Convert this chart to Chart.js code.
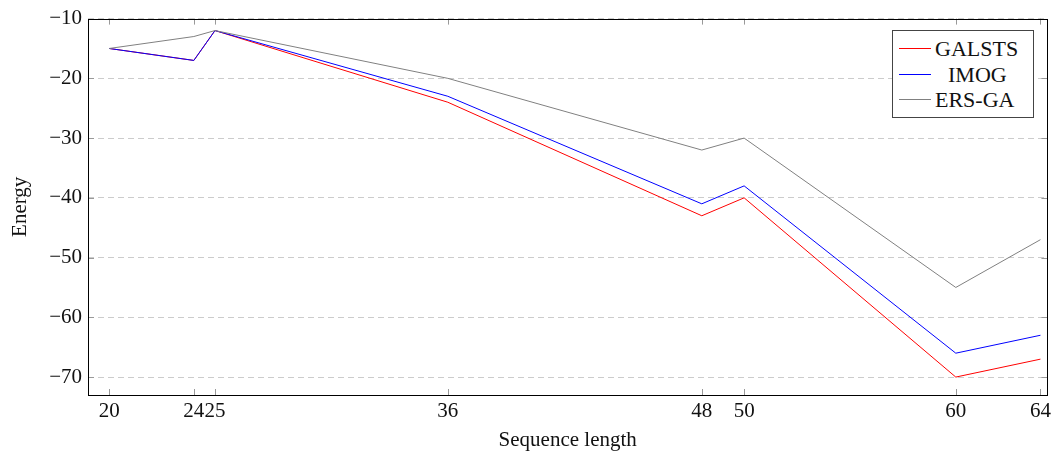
<!DOCTYPE html>
<html>
<head>
<meta charset="utf-8">
<script src="https://cdn.jsdelivr.net/npm/chart.js@4/dist/chart.umd.min.js"></script>
<style>
  body { margin: 0; background: #fff; }
  #wrap { position: relative; width: 1055px; height: 451px; }
  #legend {
    position: absolute; left: 892px; top: 30px; width: 140px; height: 86px;
    border: 1px solid #444; background: #fff;
    font-family: "Liberation Serif", serif; font-size: 22px; color: #111;
  }
  #legend div { height: 25.5px; line-height: 25.5px; position: relative; padding-left: 42px; }
  #legend div:first-child { margin-top: 5px; }
  #legend span.sw { position: absolute; left: 6px; top: 12px; width: 32px; height: 0; border-top: 1px solid; }
</style>
</head>
<body>
<div id="wrap">
  <canvas id="chart" width="1055" height="451"></canvas>
  <div id="legend"></div>
</div>
<script>
const seqLengths = [20, 24, 25, 36, 48, 50, 60, 64];
const galsts = [-15, -17, -12, -24, -43, -40, -70, -67];
const imog = [-15, -17, -12, -23, -41, -38, -66, -63];
const ersGa = [-15, -13, -12, -20, -32, -30, -55, -47];
const yTicks = [-70, -60, -50, -40, -30, -20, -10];

const seriesNames = ['GALSTS', 'IMOG', 'ERS-GA'];
const seriesColors = ['#ff0000', '#0000ff', '#808080'];
const seriesData = [galsts, imog, ersGa];

const font = { family: '"Liberation Serif", serif', size: 21 };

// frame + inward tick marks like pgfplots
const framePlugin = {
  id: 'frame',
  afterDraw(chart) {
    const ctx = chart.ctx, a = chart.chartArea;
    const xs = chart.scales.x, ys = chart.scales.y;
    ctx.save();
    ctx.strokeStyle = '#999';
    ctx.lineWidth = 1;
    ctx.beginPath();
    seqLengths.forEach(v => {
      const px = Math.round(xs.getPixelForValue(v)) + 0.5;
      ctx.moveTo(px, a.bottom); ctx.lineTo(px, a.bottom - 6);
      ctx.moveTo(px, a.top); ctx.lineTo(px, a.top + 6);
    });
    yTicks.forEach(v => {
      const py = Math.round(ys.getPixelForValue(v)) + 0.5;
      ctx.moveTo(a.left, py); ctx.lineTo(a.left + 6, py);
      ctx.moveTo(a.right, py); ctx.lineTo(a.right - 6, py);
    });
    ctx.stroke();
    ctx.strokeStyle = '#000';
    ctx.strokeRect(Math.round(a.left) + 0.5, Math.round(a.top) + 0.5,
      Math.round(a.right - a.left), Math.round(a.bottom - a.top));
    ctx.restore();
  }
};

new Chart(document.getElementById('chart').getContext('2d'), {
  type: 'line',
  data: {
    datasets: seriesNames.map((name, i) => ({
      label: name,
      data: seqLengths.map((x, j) => ({ x: x, y: seriesData[i][j] })),
      borderColor: seriesColors[i],
      borderWidth: 1,
      pointRadius: 0,
      tension: 0,
      fill: false
    })).reverse()
  },
  options: {
    responsive: false,
    animation: false,
    layout: { padding: { left: 0, top: 18, right: 6, bottom: 0 } },
    plugins: { legend: { display: false }, tooltip: { enabled: false } },
    scales: {
      x: {
        type: 'linear',
        min: 19.0,
        max: 64.33,
        afterBuildTicks: s => { s.ticks = seqLengths.map(v => ({ value: v })); },
        afterFit: s => { s.height = 56; },
        ticks: { autoSkip: false, maxRotation: 0, font: font, color: '#111', padding: 4,
                  callback: v => String(v) },
        grid: { display: false, drawTicks: false },
        border: { display: false },
        title: { display: true, text: 'Sequence length', font: font, color: '#111', padding: { top: 2, bottom: -2 } }
      },
      y: {
        min: -73,
        max: -10,
        afterBuildTicks: s => { s.ticks = yTicks.map(v => ({ value: v })); },
        afterFit: s => { s.width = 88; },
        ticks: { font: font, color: '#111', padding: 6,
                  callback: v => String(v).replace('-', '\u2212') },
        grid: { color: '#cccccc', drawTicks: false },
        border: { display: false, dash: [6, 4] },
        title: { display: true, text: 'Energy', font: font, color: '#111', padding: { top: 8, bottom: 4 } }
      }
    }
  },
  plugins: [framePlugin]
});

// legend box
const leg = document.getElementById('legend');
seriesNames.forEach((name, i) => {
  const row = document.createElement('div');
  row.innerHTML = '<span class="sw" style="border-color:' + seriesColors[i] + '"></span>' + name;
  if (name === 'IMOG') row.style.paddingLeft = '55px';
  leg.appendChild(row);
});
</script>
</body>
</html>
